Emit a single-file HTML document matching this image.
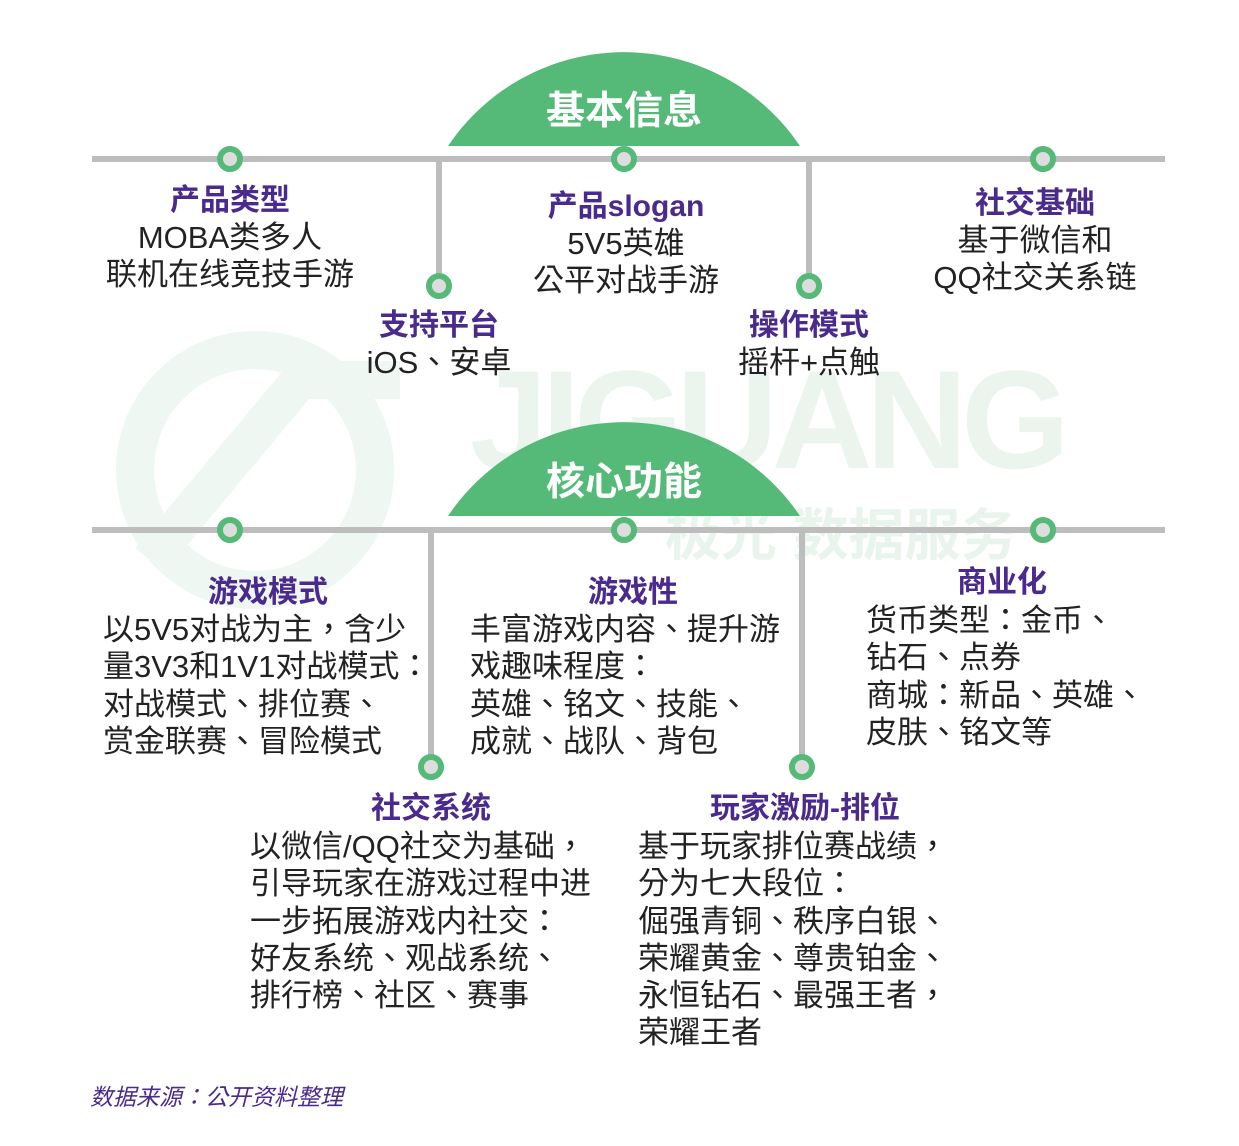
<!DOCTYPE html>
<html><head><meta charset="utf-8"><style>
body{margin:0;background:#fff;}
#c{position:relative;width:1239px;height:1146px;overflow:hidden;font-family:"Liberation Sans","Noto Sans CJK TC",sans-serif;}
.t{position:absolute;color:#4a2a8c;font-weight:bold;font-size:30px;line-height:37px;white-space:nowrap;transform:translateX(-50%);text-align:center;font-family:"Liberation Sans","Noto Sans CJK SC",sans-serif;}
.b{position:absolute;color:#222;font-size:31px;line-height:37.3px;white-space:nowrap;}
.cb{transform:translateX(-50%);text-align:center;}
</style></head><body><div id="c">
<svg width="1239" height="1146" style="position:absolute;left:0;top:0">
<g fill="none" stroke="#eef7f1" stroke-width="38">
<path d="M150,560 L300,380 L400,380"/>
<circle cx="255" cy="470" r="120"/>
</g>
<text x="470" y="468" font-family="Liberation Sans" font-weight="bold" font-size="140" fill="#ebf5ee" textLength="600">JIGUANG</text>
<text x="665" y="555" font-family="Liberation Sans,Noto Sans CJK SC,sans-serif" font-weight="bold" font-size="56" fill="#e8f4ec">极光 数据服务</text>
<g stroke="#bdbdbd" stroke-width="6" fill="none">
<line x1="92" y1="159" x2="1165" y2="159"/>
<line x1="439" y1="159" x2="439" y2="286"/>
<line x1="809" y1="159" x2="809" y2="286"/>
<line x1="92" y1="530" x2="1165" y2="530"/>
<line x1="431" y1="530" x2="431" y2="767"/>
<line x1="802" y1="530" x2="802" y2="767"/>
</g>
<path d="M448,146 A212,212 0 0 1 800,146 Z" fill="#55b978"/>
<path d="M448,516 A212,212 0 0 1 800,516 Z" fill="#55b978"/>
<g fill="#ddd" stroke="#55b978" stroke-width="6">
<circle cx="230" cy="159" r="10"/><circle cx="624" cy="159" r="10"/><circle cx="1043" cy="159" r="10"/>
<circle cx="439" cy="286" r="10"/><circle cx="809" cy="286" r="10"/>
<circle cx="230" cy="530" r="10"/><circle cx="624" cy="530" r="10"/><circle cx="1043" cy="530" r="10"/>
<circle cx="431" cy="767" r="10"/><circle cx="802" cy="767" r="10"/>
</g>
<text x="624" y="124" text-anchor="middle" font-family="Liberation Sans,Noto Sans CJK SC,sans-serif" font-weight="bold" font-size="39" fill="#fff">基本信息</text>
<text x="624" y="495" text-anchor="middle" font-family="Liberation Sans,Noto Sans CJK SC,sans-serif" font-weight="bold" font-size="39" fill="#fff">核心功能</text>
</svg>

<div class="t" style="left:230px;top:182px">产品类型</div>
<div class="b cb" style="left:230px;top:219px">MOBA类多人<br>联机在线竞技手游</div>

<div class="t" style="left:626px;top:188px">产品slogan</div>
<div class="b cb" style="left:626px;top:225px">5V5英雄<br>公平对战手游</div>

<div class="t" style="left:1035px;top:185px">社交基础</div>
<div class="b cb" style="left:1035px;top:222px">基于微信和<br>QQ社交关系链</div>

<div class="t" style="left:439px;top:307px">支持平台</div>
<div class="b cb" style="left:439px;top:344px">iOS、安卓</div>

<div class="t" style="left:809px;top:307px">操作模式</div>
<div class="b cb" style="left:809px;top:344px">摇杆+点触</div>

<div class="t" style="left:268px;top:574px">游戏模式</div>
<div class="b" style="left:103px;top:611px">以5V5对战为主，含少<br>量3V3和1V1对战模式：<br>对战模式、排位赛、<br>赏金联赛、冒险模式</div>

<div class="t" style="left:633px;top:574px">游戏性</div>
<div class="b" style="left:470px;top:611px">丰富游戏内容、提升游<br>戏趣味程度：<br>英雄、铭文、技能、<br>成就、战队、背包</div>

<div class="t" style="left:1002px;top:564px">商业化</div>
<div class="b" style="left:866px;top:602px">货币类型：金币、<br>钻石、点券<br>商城：新品、英雄、<br>皮肤、铭文等</div>

<div class="t" style="left:431px;top:790px">社交系统</div>
<div class="b" style="left:250px;top:828px">以微信/QQ社交为基础，<br>引导玩家在游戏过程中进<br>一步拓展游戏内社交：<br>好友系统、观战系统、<br>排行榜、社区、赛事</div>

<div class="t" style="left:805px;top:790px">玩家激励-排位</div>
<div class="b" style="left:638px;top:828px">基于玩家排位赛战绩，<br>分为七大段位：<br>倔强青铜、秩序白银、<br>荣耀黄金、尊贵铂金、<br>永恒钻石、最强王者，<br>荣耀王者</div>

<div style="position:absolute;left:90px;top:1082px;color:#4a2a8c;font-size:23px;font-style:italic;line-height:30px;white-space:nowrap;font-family:'Liberation Sans','Noto Sans CJK TC',sans-serif;">数据来源：公开资料整理</div>
</div></body></html>
